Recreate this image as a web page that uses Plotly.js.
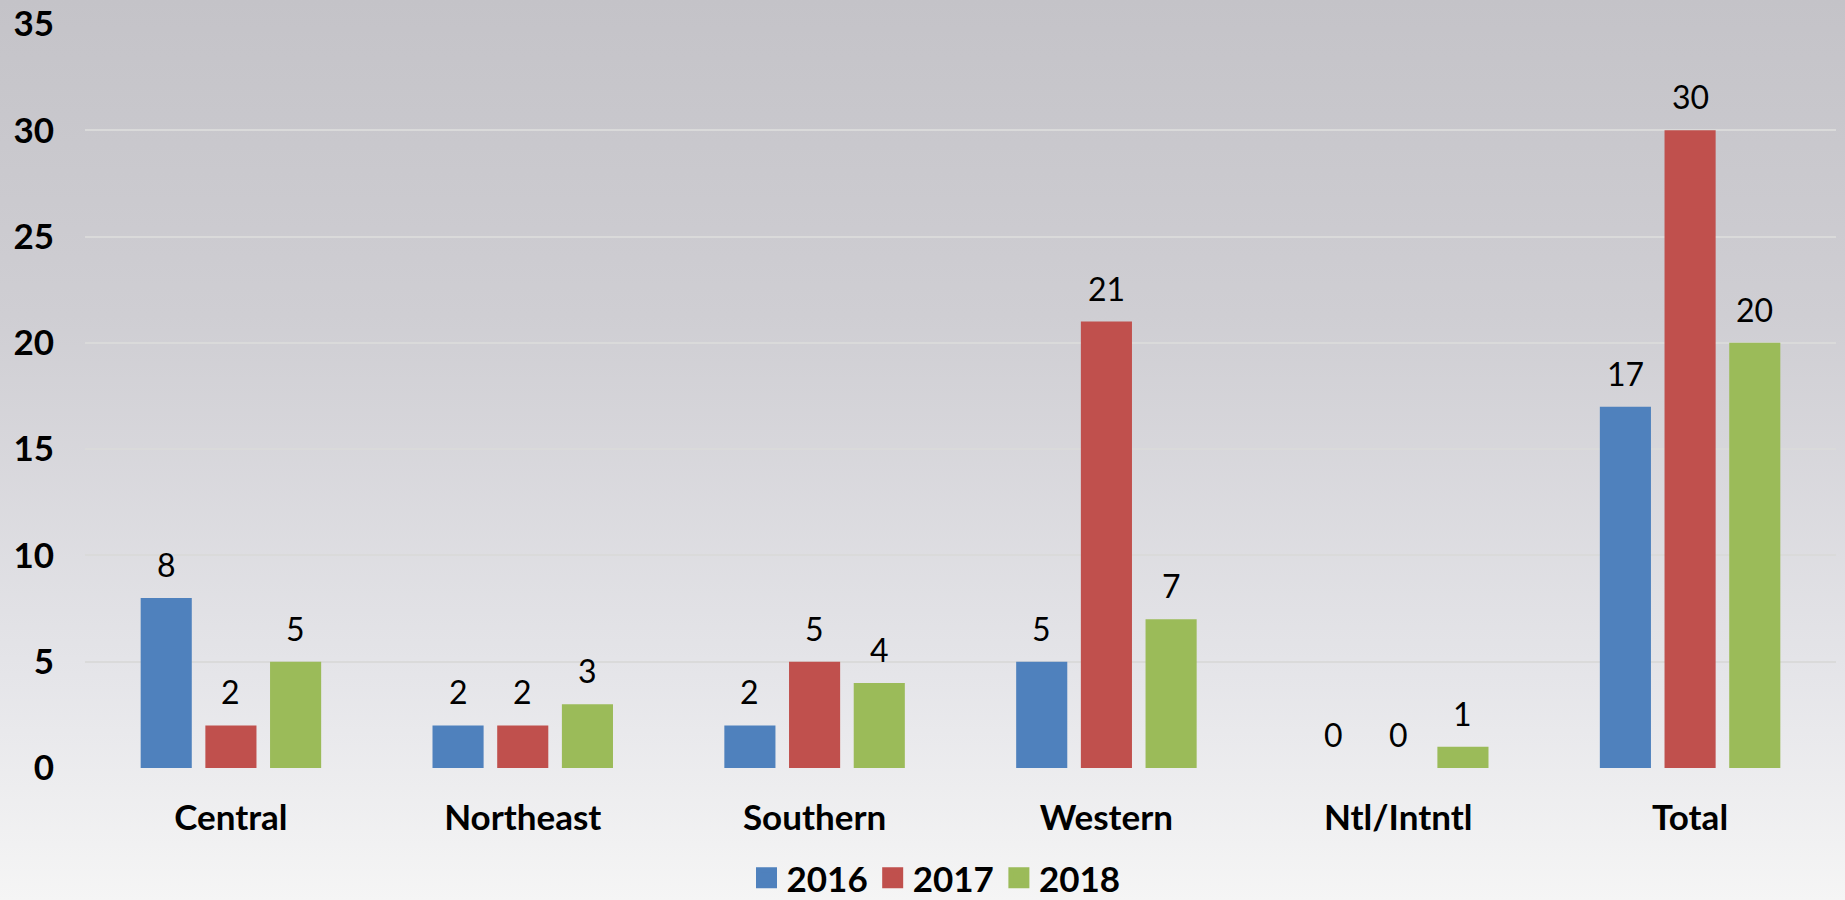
<!DOCTYPE html>
<html><head><meta charset="utf-8">
<script src="https://cdn.plot.ly/plotly-3.0.1.min.js"></script>
<style>
html,body{margin:0;padding:0;background:#f4f4f4;}
#chart{width:1845px;height:900px;background:linear-gradient(to bottom,#c4c3c8 0%,#cfced3 35%,#e5e5e9 75%,#f5f5f5 100%);}
</style></head><body><div id="chart"></div>
<script>
const categories = ['Central','Northeast','Southern','Western','Ntl/Intntl','Total'];
const years = ['2016','2017','2018'];
const values2016 = [8,2,2,5,0,17];
const values2017 = [2,2,5,21,0,30];
const values2018 = [5,3,4,7,1,20];
const colors = ['#4f81bd','#c0504d','#9bbb59'];
const yTicks = [0,5,10,15,20,25,30,35];

const series = [values2016, values2017, values2018];
const FONT = 'Lato, "Open Sans", sans-serif';
const W = 1845, H = 900;
const margin = {l:85, r:9, t:24, b:132, pad:0, autoexpand:false};
const bargap = 0.335, bargroupgap = 0.21;

const traces = [];
series.forEach((vals, i) => {
  traces.push({
    type:'bar', x:categories, y:vals, name:years[i], showlegend:false,
    marker:{color:colors[i]}, hoverinfo:'x+y+name'
  });
});
// legend entries with larger squares
series.forEach((vals, i) => {
  traces.push({
    type:'scatter', mode:'markers', x:[null], y:[null], name:years[i], showlegend:true,
    marker:{symbol:'square', size:16, color:colors[i], line:{color:colors[i], width:5}},
    hoverinfo:'skip'
  });
});

const plotW = W - margin.l - margin.r;
const catW = plotW / categories.length;
const slot = catW * (1 - bargap) / series.length;
const annotations = [];
series.forEach((vals, i) => {
  vals.forEach((v, j) => {
    annotations.push({
      x: categories[j], y: v, xref:'x', yref:'y', text:String(v), showarrow:false,
      xshift: (i - (series.length-1)/2) * slot, yanchor:'bottom', yshift:12,
      font:{family:FONT, size:32, color:'#000'}
    });
  });
});

const layout = {
  width:W, height:H, margin:margin,
  paper_bgcolor:'rgba(0,0,0,0)', plot_bgcolor:'rgba(0,0,0,0)',
  barmode:'group', bargap:bargap, bargroupgap:bargroupgap,
  font:{family:FONT, color:'#000'},
  xaxis:{type:'category', showline:false, ticks:'', showgrid:false, zeroline:false, automargin:false,
    tickfont:{family:FONT, size:35, color:'#000', weight:'bold'}, ticklabelstandoff:26},
  yaxis:{range:[0,35], tickvals:yTicks, ticktext:yTicks.map(String), showline:false, ticks:'', automargin:false,
    showgrid:true, gridcolor:'#dadada', gridwidth:2, zeroline:false,
    tickfont:{family:FONT, size:35, color:'#000', weight:'bold'}, ticklabelstandoff:30},
  legend:{orientation:'h', x:0.486, xanchor:'center', y:-0.148, yanchor:'middle',
    font:{family:FONT, size:35, color:'#000', weight:'bold'}, bgcolor:'rgba(0,0,0,0)'},
  annotations:annotations
};
Plotly.newPlot('chart', traces, layout, {displayModeBar:false, staticPlot:true});
</script></body></html>
